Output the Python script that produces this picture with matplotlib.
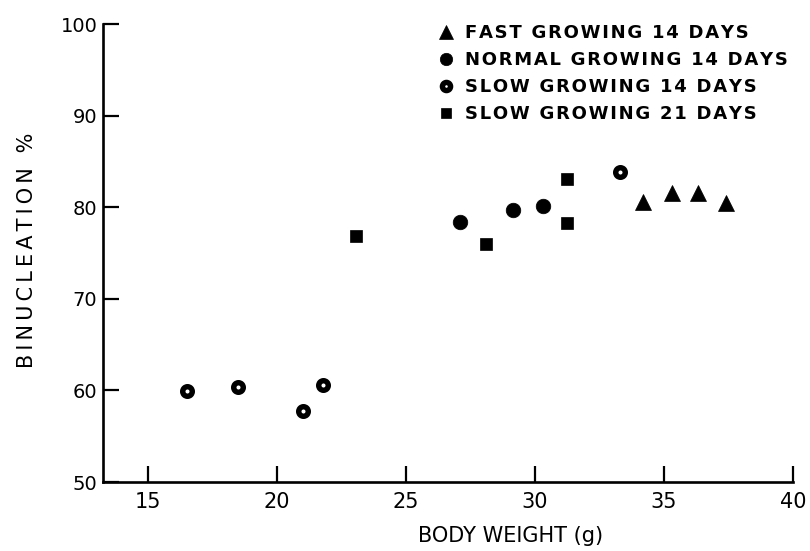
import numpy as np
import matplotlib
matplotlib.use("Agg")
import matplotlib.pyplot as plt

# values
fast_x = [34.2, 35.3, 36.3, 37.4]
fast_y = [80.6, 81.5, 81.5, 80.5]
normal_x = [27.1, 29.15, 30.3]
normal_y = [78.4, 79.7, 80.1]
slow14_x = [16.5, 18.5, 21.0, 21.8, 33.3]
slow14_y = [59.9, 60.4, 57.7, 60.6, 83.8]
slow21_x = [23.05, 28.1, 31.25, 31.25]
slow21_y = [76.9, 76.0, 83.1, 78.3]

labels = ["FAST GROWING 14 DAYS", "NORMAL GROWING 14 DAYS",
          "SLOW GROWING 14 DAYS", "SLOW GROWING 21 DAYS"]
xticks = [15, 20, 25, 30, 35, 40]
yticks = [50, 60, 70, 80, 90, 100]


def spaced(s, sp='\u2009'):
    # the old typeset labels are widely letter-spaced; narrow spaces fake that
    return sp.join(s)


plt.rcParams['font.family'] = ['DejaVu Sans']

fig = plt.figure(figsize=(8.1, 5.51), dpi=100)
ax = fig.add_axes([103/810, 1-482/551, (793-103)/810, (482-24)/551])

h1, = ax.plot(fast_x, fast_y, ls='none', marker='^', ms=11.5, mfc='black', mec='black', mew=0.5)
h2, = ax.plot(normal_x, normal_y, ls='none', marker='o', ms=10.5, mfc='black', mec='black', mew=0.5)
h3, = ax.plot(slow14_x, slow14_y, ls='none', marker='o', ms=6.9, mfc='white', mec='black', mew=3.9)
h4, = ax.plot(slow21_x, slow21_y, ls='none', marker='s', ms=9.2, mfc='black', mec='black', mew=0.5)

ax.set_xlim(13.26, 40)
ax.set_ylim(50, 100)
ax.set_xticks(xticks)
ax.set_yticks(yticks)
ax.set_xticklabels([str(t) for t in xticks])
ax.set_yticklabels([str(t) for t in yticks])

for s in ['top', 'right']:
    ax.spines[s].set_visible(False)
for s in ['left', 'bottom']:
    ax.spines[s].set_linewidth(1.9)
ax.tick_params(direction='in', length=11.5, width=1.6, pad=4)
ax.tick_params(axis='y', labelsize=14)
ax.tick_params(axis='x', labelsize=15, pad=7)

ax.set_xlabel("BODY WEIGHT (g)", fontsize=15)
ax.xaxis.set_label_coords(0.59, -0.095)
ax.set_ylabel(spaced("BINUCLEATION %"), fontsize=15)
ax.yaxis.set_label_coords(-0.095, 0.505)

leg = fig.legend([h1, h2, h3, h4], [spaced(l, '\u200a') for l in labels],
                 loc='upper left', bbox_to_anchor=(428/810, 1-15/551),
                 frameon=False, prop={'size': 13, 'weight': 'bold'},
                 handlelength=1.0, handletextpad=0.55, labelspacing=0.5,
                 markerscale=0.85, borderpad=0)

fig.savefig("out.png", dpi=100)
